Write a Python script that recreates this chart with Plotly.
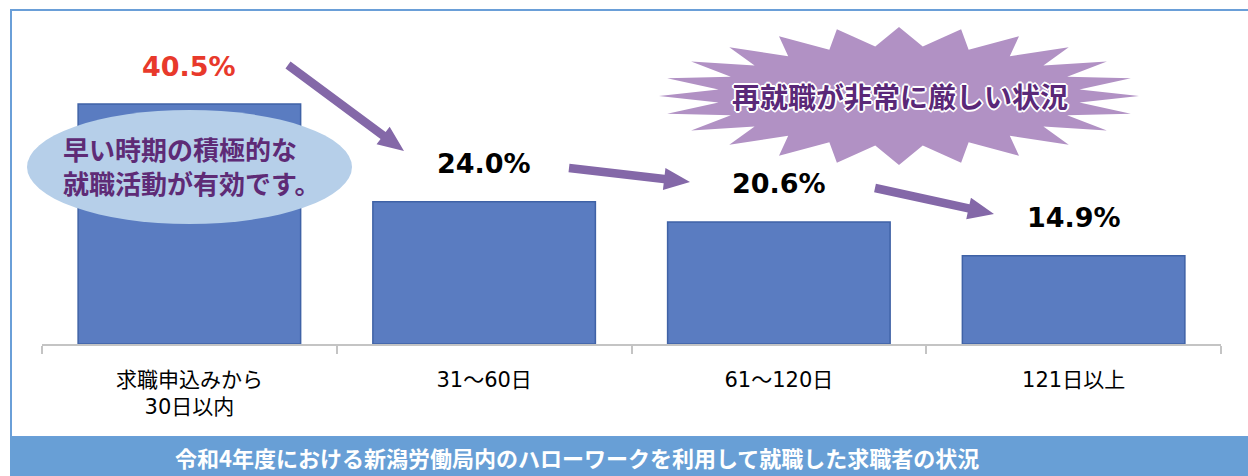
import math
import plotly.graph_objects as go

# ---- data ----
categories = ["求職申込みから<br>30日以内", "31〜60日", "61〜120日", "121日以上"]
values = [40.5, 24.0, 20.6, 14.9]
value_labels = ["40.5%", "24.0%", "20.6%", "14.9%"]
label_colors = ["#e8392b", "#000000", "#000000", "#000000"]
ellipse_lines = ["早い時期の積極的な", "就職活動が有効です。"]
burst_text = "再就職が非常に厳しい状況"
banner_text = "令和4年度における新潟労働局内のハローワークを利用して就職した求職者の状況"

W, H = 1248, 476
ML, MR, MT, MB = 42, 27, 20, 132
PW = W - ML - MR
PH = H - MT - MB
YMAX = 54.7


def px(x):
    return (x - ML) / PW


def py(y):
    return (H - MB - y) / PH


def path_from(points):
    s = "M " + " L ".join(f"{px(x):.5f},{py(y):.5f}" for x, y in points) + " Z"
    return s


def arrow_pts(x0, y0, x1, y1, shaft=8.5, head_w=22, head_l=26):
    dx, dy = x1 - x0, y1 - y0
    L = math.hypot(dx, dy)
    ux, uy = dx / L, dy / L
    nx, ny = -uy, ux
    bx, by = x1 - ux * head_l, y1 - uy * head_l
    hs, hh = shaft / 2, head_w / 2
    return [
        (x0 + nx * hs, y0 + ny * hs),
        (bx + nx * hs, by + ny * hs),
        (bx + nx * hh, by + ny * hh),
        (x1, y1),
        (bx - nx * hh, by - ny * hh),
        (bx - nx * hs, by - ny * hs),
        (x0 - nx * hs, y0 - ny * hs),
    ]


def burst_pts(cx, cy, rxo, ryo, rxi, ryi, n=24):
    pts = []
    for k in range(n):
        a = math.radians(90 + k * 360 / n)
        pts.append((cx + rxo * math.cos(a), cy - ryo * math.sin(a)))
        b = math.radians(90 + (k + 0.5) * 360 / n)
        pts.append((cx + rxi * math.cos(b), cy - ryi * math.sin(b)))
    return pts


fig = go.Figure()
fig.add_trace(go.Bar(
    x=categories, y=values,
    marker=dict(color="#5a7cc1", line=dict(color="#3f62a6", width=1.5)),
    hoverinfo="skip",
))

shapes = []
# frame
shapes.append(dict(type="rect", xref="paper", yref="paper",
                   x0=px(11), x1=px(1256), y0=py(10), y1=py(437),
                   line=dict(color="#6a9fd8", width=2), fillcolor="rgba(0,0,0,0)", layer="below"))
# banner
shapes.append(dict(type="rect", xref="paper", yref="paper",
                   x0=px(10), x1=px(1256), y0=py(437), y1=py(480),
                   line=dict(width=0), fillcolor="#689fd6", layer="above"))
# ellipse
shapes.append(dict(type="circle", xref="paper", yref="paper",
                   x0=px(27), x1=px(352), y0=py(224), y1=py(110),
                   line=dict(width=0), fillcolor="#b6cfe9", layer="above"))
# starburst
shapes.append(dict(type="path", xref="paper", yref="paper",
                   path=path_from(burst_pts(899, 96, 240, 69, 182, 50)),
                   line=dict(width=0), fillcolor="#b191c4", layer="above"))
# arrows
for (a, b, c, d) in [(288, 65, 404, 151), (569, 168, 690, 182), (875, 188, 994, 214)]:
    shapes.append(dict(type="path", xref="paper", yref="paper",
                       path=path_from(arrow_pts(a, b, c, d)),
                       line=dict(width=0), fillcolor="#8468a8", layer="above"))

annotations = []
for cat, v, lab, col in zip(categories, values, value_labels, label_colors):
    annotations.append(dict(x=cat, y=v, xref="x", yref="y", text=f"<b>{lab}</b>",
                            showarrow=False, yshift=38, yanchor="middle",
                            font=dict(family="DejaVu Sans", size=27, color=col)))
annotations.append(dict(x=px(61), y=py(165), xref="paper", yref="paper",
                        text="<br>".join(f"<b>{ln}</b>" for ln in ellipse_lines),
                        showarrow=False, xanchor="left", yanchor="middle", align="left",
                        font=dict(family="Noto Sans CJK JP", size=26, color="#5e2b76")))
annotations.append(dict(x=px(900), y=py(96), xref="paper", yref="paper",
                        text=f"<b>{burst_text}</b>", showarrow=False, xanchor="center", yanchor="middle",
                        font=dict(family="Noto Sans CJK JP", size=28, color="#5a2878",
                                  shadow="2px 0 0 #fff, -2px 0 0 #fff, 0 2px 0 #fff, 0 -2px 0 #fff, 1px 1px 0 #fff, -1px -1px 0 #fff, 1px -1px 0 #fff, -1px 1px 0 #fff")))
annotations.append(dict(x=px(577), y=py(457), xref="paper", yref="paper",
                        text=f"<b>{banner_text}</b>", showarrow=False, xanchor="center", yanchor="middle",
                        font=dict(family="Noto Sans CJK JP", size=22, color="#ffffff")))

fig.update_layout(
    width=W, height=H,
    margin=dict(l=ML, r=MR, t=MT, b=MB, pad=0),
    paper_bgcolor="white", plot_bgcolor="white",
    showlegend=False, bargap=0.245,
    shapes=shapes, annotations=annotations,
    xaxis=dict(showline=True, linecolor="#c4c4c4", linewidth=1.5,
               ticks="outside", tickson="boundaries", ticklen=8, tickcolor="#c4c4c4", tickwidth=1.5,
               ticklabelstandoff=16,
               tickfont=dict(family="DejaVu Sans, Noto Sans CJK JP", size=21, color="#000000"),
               showgrid=False, zeroline=False, fixedrange=True),
    yaxis=dict(range=[0, YMAX], visible=False, showgrid=False, zeroline=False, fixedrange=True),
    font=dict(family="Noto Sans CJK JP"),
)

fig.write_html("out.html", config={"displayModeBar": False})
